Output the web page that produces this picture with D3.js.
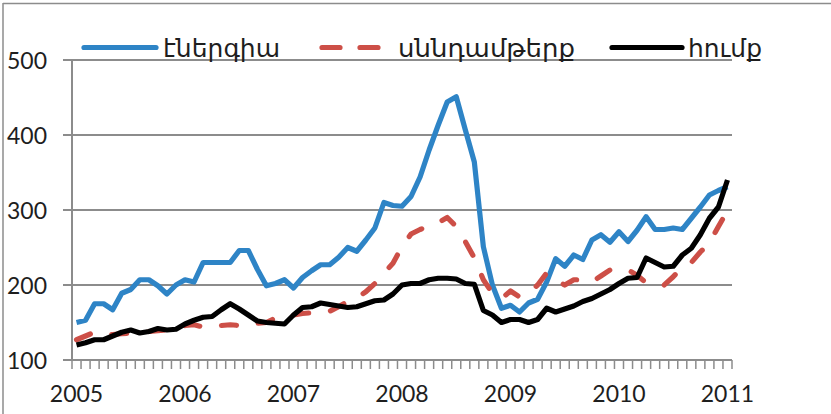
<!DOCTYPE html>
<html>
<head>
<meta charset="utf-8">
<script src="https://cdn.jsdelivr.net/npm/d3@7"></script>
<style>
  html, body { margin: 0; padding: 0; background: #fff; }
  svg { display: block; }
</style>
</head>
<body>
<svg id="chart" width="831" height="414"></svg>
<script>
// ---- data ----
const yearLabels = ["2005", "2006", "2007", "2008", "2009", "2010", "2011"];
const seriesNames = ["էներգիա", "սննդամթերք", "հումք"];
const yTicks = [100, 200, 300, 400, 500];

const energy = [150,153,175,175,167,189,194,207,207,199,188,200,
                207,204,230,230,230,230,246,246,221,199,202,207,
                196,210,219,227,227,237,250,245,260,276,310,306,
                305,318,344,380,413,444,451,407,364,251,200,169,
                173,164,176,181,204,235,225,240,234,260,267,257,
                271,258,273,291,274,274,276,274,289,304,320,326,
                331];
const food   = [127,132,137,134,134,135,136,137,138,139,140,142,
                146,147,144,144,146,147,146,146,149,150,156,159,
                160,162,163,164,165,171,178,183,191,202,216,229,
                251,268,274,279,283,290,278,258,236,207,189,182,
                192,184,189,200,216,207,200,207,207,204,212,220,
                220,220,213,203,200,200,211,224,230,244,256,278,
                299];
const raw    = [120,123,127,127,132,137,140,136,138,142,140,141,
                148,153,157,158,167,175,168,160,152,150,149,148,
                160,170,171,176,174,172,170,171,175,179,180,188,
                200,202,202,207,209,209,208,202,201,166,160,150,
                154,154,150,154,169,164,168,172,178,182,188,194,
                202,209,210,236,230,224,225,240,249,267,289,304,
                340];

// monthly categories: Jan 2005 .. Jan 2011
const months = [];
yearLabels.forEach((y, yi) => {
  const n = yi === yearLabels.length - 1 ? 1 : 12;
  for (let m = 1; m <= n; m++) months.push(y + "-" + String(m).padStart(2, "0"));
});

const colors = ["#2E84C6", "#CD4F47", "#000000"];
const series = [energy, food, raw];

// ---- drawing ----
const svg = d3.select("#chart");
const plotL = 72, plotR = 732, plotT = 60, plotB = 360;

const x = d3.scaleBand().domain(months).range([plotL, plotR]);
const y = d3.scaleLinear().domain([100, 500]).range([plotB, plotT]);
const grey = "#8c8c8c";
const numFont = "Lato, 'Liberation Sans', sans-serif";

// outer frame (top and left edges visible)
svg.append("line").attr("x1", 3).attr("x2", 831).attr("y1", 3.5).attr("y2", 3.5)
  .attr("stroke", grey).attr("stroke-width", 1.5);
svg.append("line").attr("x1", 3).attr("x2", 3).attr("y1", 3).attr("y2", 414)
  .attr("stroke", grey).attr("stroke-width", 1.5);

// gridlines
svg.append("g").selectAll("line").data(yTicks.filter(d => d > 100)).join("line")
  .attr("x1", plotL).attr("x2", plotR)
  .attr("y1", d => y(d)).attr("y2", d => y(d))
  .attr("stroke", grey).attr("stroke-width", 2);

// y axis
svg.append("line").attr("x1", plotL).attr("x2", plotL).attr("y1", plotT).attr("y2", plotB)
  .attr("stroke", grey).attr("stroke-width", 2);
svg.append("g").selectAll("line").data(yTicks).join("line")
  .attr("x1", plotL - 9).attr("x2", plotL)
  .attr("y1", d => y(d)).attr("y2", d => y(d))
  .attr("stroke", grey).attr("stroke-width", 2);
svg.append("g").selectAll("text").data(yTicks).join("text")
  .attr("x", 47).attr("y", d => y(d))
  .attr("text-anchor", "end").attr("dominant-baseline", "central")
  .attr("font-family", numFont).attr("font-size", 23).attr("fill", "#1e1e1e")
  .text(d => d);

// x axis
svg.append("line").attr("x1", plotL).attr("x2", plotR).attr("y1", plotB).attr("y2", plotB)
  .attr("stroke", grey).attr("stroke-width", 2);
const tickPos = months.map(m => x(m)).concat([plotR]);
svg.append("g").selectAll("line").data(tickPos).join("line")
  .attr("x1", d => d).attr("x2", d => d)
  .attr("y1", plotB).attr("y2", plotB + 9)
  .attr("stroke", grey).attr("stroke-width", 1.5);
svg.append("g").selectAll("text").data(yearLabels).join("text")
  .attr("x", d => x(d + "-01") + x.bandwidth() / 2).attr("y", 402)
  .attr("text-anchor", "middle")
  .attr("font-family", numFont).attr("font-size", 23).attr("fill", "#1e1e1e")
  .text(d => d);

// lines
const line = d3.line()
  .x((d, i) => x(months[i]) + x.bandwidth() / 2)
  .y(d => y(d));

[0, 1, 2].forEach(k => {
  svg.append("path").datum(series[k])
    .attr("d", line)
    .attr("fill", "none")
    .attr("stroke", colors[k])
    .attr("stroke-width", 5.2)
    .attr("stroke-linejoin", "round")
    .attr("stroke-linecap", k === 1 ? "round" : "butt")
    .attr("stroke-dasharray", k === 1 ? "15,22" : null);
});

// legend
const legend = [
  { x1: 84, x2: 156, tx: 163, tw: 117 },
  { x1: 322, x2: 382, tx: 398, tw: 177 },
  { x1: 612, x2: 682, tx: 688, tw: 74 }
];
const ly = 47.5;
legend.forEach((L, k) => {
  svg.append("line")
    .attr("x1", L.x1).attr("x2", L.x2).attr("y1", ly).attr("y2", ly)
    .attr("stroke", colors[k]).attr("stroke-width", 5.2)
    .attr("stroke-linecap", "round")
    .attr("stroke-dasharray", k === 1 ? "18,20" : null);
  svg.append("text")
    .attr("x", L.tx).attr("y", 57)
    .attr("font-family", "'DejaVu Sans', sans-serif").attr("font-size", 25)
    .attr("fill", "#1e1e1e")
    .attr("textLength", L.tw).attr("lengthAdjust", "spacingAndGlyphs")
    .text(seriesNames[k]);
});
</script>
</body>
</html>
